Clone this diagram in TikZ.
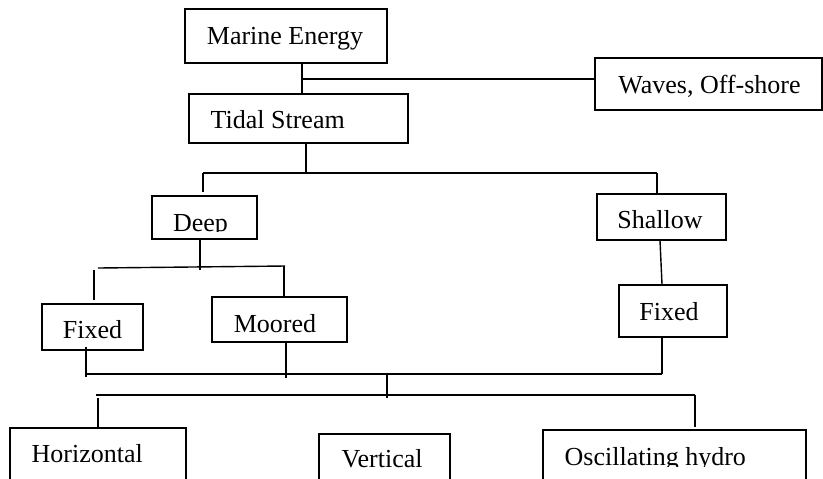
\documentclass[tikz,border=0pt]{standalone}
\usepackage{fontspec}
\setmainfont{Liberation Serif}
\usetikzlibrary{fit}
\begin{document}
\begin{tikzpicture}[x=0.5pt,y=-0.5pt,line width=0.7pt,
  box/.style={draw,inner sep=0pt,fit={#1}},
  lbl/.style={font=\fontsize{13}{15}\selectfont,inner sep=0pt,anchor=base},
  lblw/.style={lbl,anchor=base west}]
\clip (0,0) rectangle (823,478);
\fill[white] (0,0) rectangle (823,478);
% boxes
\node[box={(185,9) (387,63)}] (marine) {};
\node[box={(595,58) (822,110)}] (waves) {};
\node[box={(189,94) (408,143)}] (tidal) {};
\node[box={(152,196) (257,239)}] (deep) {};
\node[box={(597,194) (726,240)}] (shallow) {};
\node[box={(42,304) (143,350)}] (fixedL) {};
\node[box={(212,297) (347,342)}] (moored) {};
\node[box={(619,285) (727,337)}] (fixedR) {};
\node[box={(10,428) (186,490)}] (horiz) {};
\node[box={(319,434) (450,490)}] (vert) {};
\node[box={(543,430) (806,490)}] (osc) {};
% texts
\node[lbl] (tMarine) at (285,44) {Marine Energy};
\node[lbl] (tWaves) at (709.5,93) {Waves, Off-shore};
\node[lblw] (tTidal) at (210,128) {Tidal Stream};
\begin{scope}
\clip (152,196) rectangle (257,231.5);
\node[lbl] (tDeep) at (200.5,231.5) {Deep};
\end{scope}
\node[lbl] (tShallow) at (660,228) {Shallow};
\begin{scope}
\clip (42,304) rectangle (143,338.5);
\node[lbl] (tFixedL) at (92.5,338.5) {Fixed};
\end{scope}
\begin{scope}
\clip (212,297) rectangle (347,332.5);
\node[lbl] (tMoored) at (275,332.5) {Moored};
\end{scope}
\node[lbl] (tFixedR) at (669,320) {Fixed};
\node[lblw] (tHoriz) at (31,462) {Horizontal};
\node[lblw] (tVert) at (341,467) {Vertical};
\begin{scope}
\clip (543,430) rectangle (806,466.5);
\node[lblw] (tOsc) at (564,465) {Oscillating hydro};
\end{scope}
% junction coordinates
\coordinate (j1) at (302,79);
\coordinate (j2) at (306,173);
\coordinate (j2L) at (203,173);
\coordinate (j2R) at (657,173);
\coordinate (j3) at (200,267);
\coordinate (j3L) at (98,268);
\coordinate (j3R) at (285,266);
\coordinate (j4) at (387,374);
\coordinate (j4L) at (86,374);
\coordinate (j4R) at (662,374);
\coordinate (j5) at (387,395);
\coordinate (j5L) at (96,395);
\coordinate (j5R) at (695,395);
% connectors
\draw (j1 |- marine.south) -- (j1 |- tidal.north);
\draw (j1) -- (j1 -| waves.west);
\draw (j2 |- tidal.south) -- ([yshift=-0.3pt]j2);
\draw (j2L) -- (j2R);
\draw (j2L) -- ([yshift=1.5pt]j2L |- deep.north);
\draw (j2R) -- (j2R |- shallow.north);
\draw (deep.south -| j3) -- (200,270);
\draw (j3L) -- (j3R);
\draw (94,270) -- ([yshift=1.5pt]94,0 |- fixedL.north);
\draw (284,266) -- (284,0 |- moored.north);
\draw (660,0 |- shallow.south) -- (662,0 |- fixedR.north);
\draw (86,347) -- (86,377);
\draw (286,0 |- moored.south) -- (286,378);
\draw (662,0 |- fixedR.south) -- (j4R);
\draw (j4L) -- (j4R);
\draw ([yshift=0.3pt]j4) -- (387,398);
\draw (j5L) -- (j5R);
\draw (98,398) -- (98,0 |- horiz.north);
\draw (j5R) -- ([yshift=1pt]j5R |- osc.north);
\end{tikzpicture}
\end{document}
